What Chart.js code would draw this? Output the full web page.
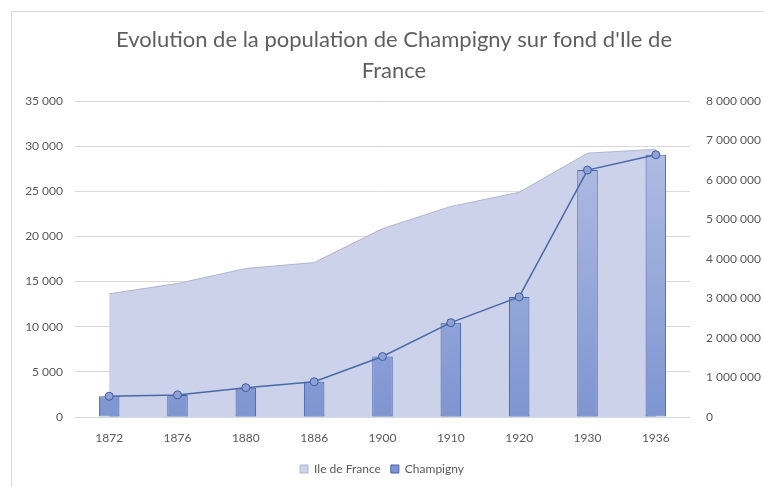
<!DOCTYPE html>
<html lang="fr">
<head>
    <meta charset="UTF-8">
    <title>Champigny</title>
    <script src="https://cdn.jsdelivr.net/npm/chart.js"></script>
    <style>
        html, body { margin: 0; padding: 0; background: #fff; overflow: hidden; }
        .cadre { position: absolute; left: 11px; top: 11px; width: 800px; height: 520px; border: 1px solid #d9d9d9; }
        .zone { position: absolute; left: 0; top: 0; width: 764px; height: 487px; }
    </style>
</head>
<body>
    <div class="cadre"></div>
    <div class="zone"><canvas id="popChart" width="764" height="487"></canvas></div>

    <script>
        // Données
        const annees = ['1872', '1876', '1880', '1886', '1900', '1910', '1920', '1930', '1936'];
        const ileDeFrance = [3120000, 3380000, 3760000, 3910000, 4770000, 5330000, 5690000, 6680000, 6780000];
        const champigny = [2300, 2450, 3250, 3900, 6700, 10450, 13300, 27350, 29050];
        const titre = ["Evolution de la population de Champigny sur fond d'Ile de", 'France'];

        // séparateur de milliers avec une espace
        const fmt = v => String(v).replace(/\B(?=(\d{3})+(?!\d))/g, ' ');

        Chart.defaults.font.family = 'Lato';
        Chart.defaults.color = '#595959';

        // dégradé des barres
        function degrade(context) {
            const area = context.chart.chartArea;
            if (!area) return '#8fa2d6';
            const g = context.chart.ctx.createLinearGradient(0, area.top, 0, area.bottom);
            g.addColorStop(0, '#b8c3e6');
            g.addColorStop(1, '#7e95d1');
            return g;
        }

        // le titre est centré sur le cadre, pas sur tout le canvas
        const decalageTitre = {
            id: 'decalageTitre',
            afterLayout(chart) {
                if (chart.titleBlock) chart.titleBlock.left = 24;
            }
        };

        const ctx = document.getElementById('popChart').getContext('2d');
        const popChart = new Chart(ctx, {
            type: 'bar',
            data: {
                labels: annees,
                datasets: [
                    {
                        type: 'line',
                        label: 'Ile de France',
                        data: ileDeFrance,
                        yAxisID: 'y1',
                        fill: 'origin',
                        backgroundColor: '#cbd2ea',
                        borderColor: '#b0b6cc',
                        borderWidth: 1,
                        pointRadius: 0,
                        tension: 0,
                        order: 3
                    },
                    {
                        type: 'bar',
                        label: 'Champigny',
                        data: champigny,
                        yAxisID: 'y',
                        backgroundColor: degrade,
                        borderColor: '#4262aa',
                        borderWidth: 1,
                        borderSkipped: false,
                        barPercentage: 0.3,
                        categoryPercentage: 1,
                        order: 2
                    },
                    {
                        type: 'line',
                        label: 'Champigny courbe',
                        data: champigny,
                        yAxisID: 'y',
                        fill: false,
                        borderColor: '#4b68a8',
                        borderWidth: 1.5,
                        pointRadius: 4,
                        pointBackgroundColor: '#8fa0d2',
                        pointBorderColor: '#3d5ca6',
                        pointBorderWidth: 1,
                        tension: 0,
                        order: 1
                    }
                ]
            },
            options: {
                responsive: false,
                animation: false,
                layout: { padding: { left: 0, right: 0, top: 0, bottom: 2 } },
                plugins: {
                    tooltip: { enabled: false },
                    title: {
                        display: true,
                        text: titre,
                        color: '#5f5f5f',
                        font: { size: 22, weight: 'normal', lineHeight: 1.41 },
                        padding: { top: 24, bottom: 15 }
                    },
                    legend: {
                        position: 'bottom',
                        labels: {
                            boxWidth: 8,
                            boxHeight: 8,
                            padding: 10,
                            font: { size: 12 },
                            generateLabels: function(chart) {
                                return Chart.defaults.plugins.legend.labels.generateLabels(chart)
                                    .filter(item => item.datasetIndex !== 2)
                                    .sort((a, b) => a.datasetIndex - b.datasetIndex)
                                    .map(item => {
                                        if (item.datasetIndex === 1) item.fillStyle = '#7f96d2';
                                        return item;
                                    });
                            }
                        }
                    }
                },
                scales: {
                    x: {
                        grid: { display: false },
                        border: { display: false },
                        ticks: { padding: 6, font: { size: 12 }, color: '#595959', maxRotation: 0 },
                        afterFit: s => { s.height = 36; }
                    },
                    y: {
                        position: 'left',
                        min: 0,
                        max: 35000,
                        ticks: { stepSize: 5000, padding: 12, font: { size: 12 }, color: '#595959', callback: v => fmt(v) },
                        grid: { color: '#d9d9d9', drawTicks: false },
                        border: { display: false },
                        afterFit: s => { s.width = 75; }
                    },
                    y1: {
                        position: 'right',
                        min: 0,
                        max: 8000000,
                        ticks: { stepSize: 1000000, padding: 16, font: { size: 12 }, color: '#595959', callback: v => fmt(v) },
                        grid: { display: false, drawTicks: false },
                        border: { display: false },
                        afterFit: s => { s.width = 74; }
                    }
                }
            },
            plugins: [decalageTitre]
        });
    </script>
</body>
</html>
